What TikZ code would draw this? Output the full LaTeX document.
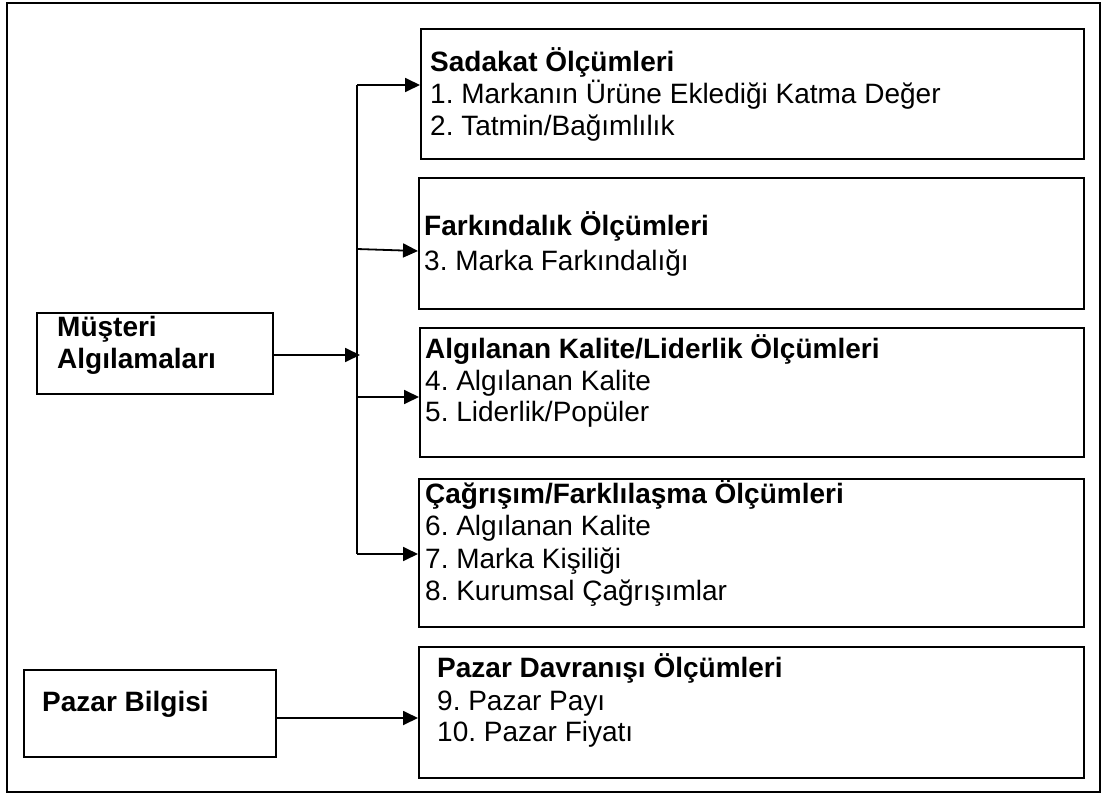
\documentclass[tikz,border=0pt]{standalone}
\usepackage{fontspec}
\setmainfont{Liberation Sans}
\usetikzlibrary{arrows.meta}
\frenchspacing
\tikzset{
  box/.style={draw=black, line width=1.8pt, inner sep=0pt},
  txt/.style={anchor=base west, inner sep=0pt, font=\fontsize{28}{31}\selectfont},
  ttl/.style={txt, font=\fontsize{28}{31}\selectfont\bfseries},
  conn/.style={draw=black, line width=1.8pt},
  arr/.style={conn, -{Triangle[length=15pt,width=14pt]}},
}
\begin{document}
\begin{tikzpicture}[x=1pt,y=-1pt]
\useasboundingbox (0,0) rectangle (1105,794);
\draw[line width=1.6pt] (7,3) rectangle (1100,792);
% boxes
\node[box, minimum width=663pt, minimum height=130pt, anchor=north west] (b1) at (420,28) {};
\node[box, minimum width=665pt, minimum height=131pt, anchor=north west] (b2) at (418,177) {};
\node[box, minimum width=664pt, minimum height=129pt, anchor=north west] (b3) at (419,327) {};
\node[box, minimum width=665pt, minimum height=148pt, anchor=north west] (b4) at (418,478) {};
\node[box, minimum width=665pt, minimum height=131pt, anchor=north west] (b5) at (418,646) {};
\node[box, minimum width=236pt, minimum height=81pt, anchor=north west] (mus) at (36,312) {};
\node[box, minimum width=252pt, minimum height=87pt, anchor=north west] (paz) at (23,669) {};
% texts
\node[ttl] (t1) at (430,72) {Sadakat Ölçümleri};
\node[txt] (l1) at (430,104) {1. Markanın Ürüne Eklediği Katma Değer};
\node[txt] (l2) at (430,136) {2. Tatmin/Bağımlılık};
\node[ttl] (t2) at (424,236) {Farkındalık Ölçümleri};
\node[txt] (l3) at (424,271) {3. Marka Farkındalığı};
\node[ttl] (t3) at (425,358) {Algılanan Kalite/Liderlik Ölçümleri};
\node[txt] (l4) at (425,390) {4. Algılanan Kalite};
\node[txt] (l5) at (425,421) {5. Liderlik/Popüler};
\node[ttl] (t4) at (425,503) {Çağrışım/Farklılaşma Ölçümleri};
\node[txt] (l6) at (425,535) {6. Algılanan Kalite};
\node[txt] (l7) at (425,568) {7. Marka Kişiliği};
\node[txt] (l8) at (425,600) {8. Kurumsal Çağrışımlar};
\node[ttl] (t5) at (437,677) {Pazar Davranışı Ölçümleri};
\node[txt] (l9) at (437,710) {9. Pazar Payı};
\node[txt] (l10) at (437,741) {10. Pazar Fiyatı};
\node[ttl] (tm1) at (57,336) {Müşteri};
\node[ttl] (tm2) at (57,368) {Algılamaları};
\node[ttl] (tp) at (42,711) {Pazar Bilgisi};
% connectors
\coordinate (vtop) at (357,85);
\coordinate (vbot) at (357,554);
\coordinate (v2) at (357,249);
\coordinate (v3) at (357,397);
\coordinate (vm) at (360,355);
\draw[conn] (vtop) -- (vbot);
\draw[arr] (vtop) -- (vtop -| b1.west);
\draw[arr] (v2) -- ([yshift=-2pt]v2 -| b2.west);
\draw[arr] (v3) -- (v3 -| b3.west);
\draw[arr] (vbot) -- (vbot -| b4.west);
\draw[arr] (mus.east |- vm) -- (vm);
\draw[arr] (paz.east |- 0,718) -- (b5.west |- 0,718);
\end{tikzpicture}
\end{document}
